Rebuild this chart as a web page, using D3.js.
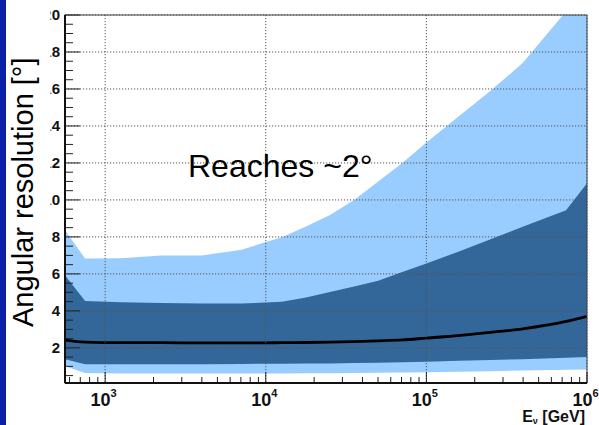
<!DOCTYPE html>
<html>
<head>
<meta charset="utf-8">
<script src="https://cdn.jsdelivr.net/npm/d3@7"></script>
<style>
  body { margin: 0; background: #fff; }
  svg { display: block; font-family: "Liberation Sans", Arial, sans-serif; }
</style>
</head>
<body>
<div id="chart"></div>
<script>
// energies in GeV
var energy = [562, 750, 1260, 2240, 3980, 7080, 10000, 12600, 17800, 25100, 35500, 50100, 70800, 100000, 158000, 251000, 398000, 741000, 1000000];
// light band (outer)
var outerHi = [8.36, 6.83, 6.85, 7.0, 7.0, 7.3, 7.73, 7.98, 8.56, 9.18, 10.0, 11.0, 12.0, 13.1, 14.5, 15.9, 17.4, 20.2, 21.6];
var outerLo = [1.0, 0.64, 0.62, 0.62, 0.62, 0.62, 0.62, 0.62, 0.63, 0.63, 0.64, 0.66, 0.67, 0.68, 0.71, 0.74, 0.77, 0.81, 0.83];
// dark band (inner)
var innerHi = [5.93, 4.54, 4.47, 4.43, 4.4, 4.4, 4.45, 4.5, 4.72, 5.02, 5.32, 5.63, 6.1, 6.56, 7.2, 7.88, 8.55, 9.44, 10.9];
var innerLo = [1.38, 1.11, 1.11, 1.12, 1.12, 1.13, 1.14, 1.14, 1.15, 1.16, 1.18, 1.2, 1.22, 1.25, 1.3, 1.34, 1.39, 1.46, 1.5];
// median
var median = [2.42, 2.31, 2.28, 2.28, 2.27, 2.27, 2.27, 2.28, 2.29, 2.31, 2.34, 2.38, 2.43, 2.53, 2.66, 2.84, 3.03, 3.43, 3.71];

var xTicks = [1e3, 1e4, 1e5, 1e6];
var xTickExp = ["3", "4", "5", "6"];
var yTicks = [2, 4, 6, 8, 10, 12, 14, 16, 18, 20];

var svgWidth = 599, svgHeight = 425;
var margin = { top: 15, right: 12, bottom: 42, left: 65 };
var width = svgWidth - margin.left - margin.right;
var height = svgHeight - margin.top - margin.bottom;

var svg = d3.select("#chart").append("svg")
    .attr("width", svgWidth)
    .attr("height", svgHeight);

// blue strip on the left edge
svg.append("rect").attr("x", 0).attr("y", 0).attr("width", 6).attr("height", svgHeight).attr("fill", "#0b22a8");

var chartGroup = svg.append("g")
    .attr("transform", `translate(${margin.left}, ${margin.top})`);

var xScale = d3.scaleLog().domain([Math.pow(10, 2.75), 1e6]).range([0, width]);
var yScale = d3.scaleLinear().domain([0.1, 20]).range([height, 0]);

svg.append("defs").append("clipPath").attr("id", "plotclip")
    .append("rect").attr("width", width).attr("height", height);
svg.select("defs").append("clipPath").attr("id", "labclip")
    .append("rect").attr("x", 50.5).attr("y", 0).attr("width", 20).attr("height", svgHeight);

var rows = energy.map(function (e, i) {
    return { e: e, oh: outerHi[i], ol: outerLo[i], ih: innerHi[i], il: innerLo[i], m: median[i] };
});

var plot = chartGroup.append("g").attr("clip-path", "url(#plotclip)");

plot.append("path").datum(rows)
    .attr("fill", "#99ccff")
    .attr("d", d3.area().x(d => xScale(d.e)).y0(d => yScale(d.ol)).y1(d => yScale(d.oh)));

plot.append("path").datum(rows)
    .attr("fill", "#336699")
    .attr("d", d3.area().x(d => xScale(d.e)).y0(d => yScale(d.il)).y1(d => yScale(d.ih)));

// grid
yTicks.forEach(function (t) {
    chartGroup.append("line")
        .attr("x1", 0).attr("x2", width)
        .attr("y1", yScale(t)).attr("y2", yScale(t))
        .attr("stroke", "#555").attr("stroke-width", 1).attr("stroke-dasharray", "1.2,1.8");
});
xTicks.forEach(function (t) {
    chartGroup.append("line")
        .attr("x1", xScale(t)).attr("x2", xScale(t))
        .attr("y1", 0).attr("y2", height)
        .attr("stroke", "#555").attr("stroke-width", 1).attr("stroke-dasharray", "1.2,1.8");
});

// median line
plot.append("path").datum(rows)
    .attr("fill", "none")
    .attr("stroke", "#000")
    .attr("stroke-width", 2.8)
    .attr("d", d3.line().x(d => xScale(d.e)).y(d => yScale(d.m)).curve(d3.curveMonotoneX));

// frame
chartGroup.append("rect").attr("width", width).attr("height", height)
    .attr("fill", "none").attr("stroke", "#444").attr("stroke-width", 1);

// y ticks (inside)
var yMinor = d3.range(0.5, 20.01, 0.5);
yMinor.forEach(function (t) {
    var major = Math.abs(t % 2) < 1e-6;
    chartGroup.append("line")
        .attr("x1", 0).attr("x2", major ? 15 : 8)
        .attr("y1", yScale(t)).attr("y2", yScale(t))
        .attr("stroke", "#222").attr("stroke-width", 1);
});

// x ticks (inside)
var xMinor = [];
[100, 1000, 10000, 100000].forEach(function (dec) {
    for (var k = 2; k <= 9; k++) xMinor.push(dec * k);
});
xMinor.filter(v => v >= xScale.domain()[0]).forEach(function (t) {
    chartGroup.append("line")
        .attr("x1", xScale(t)).attr("x2", xScale(t))
        .attr("y1", height).attr("y2", height - 6)
        .attr("stroke", "#222").attr("stroke-width", 1);
});
xTicks.forEach(function (t) {
    chartGroup.append("line")
        .attr("x1", xScale(t)).attr("x2", xScale(t))
        .attr("y1", height).attr("y2", height - 11)
        .attr("stroke", "#222").attr("stroke-width", 1);
});

// axes lines
chartGroup.append("line").attr("x1", 0).attr("x2", 0).attr("y1", 0).attr("y2", height)
    .attr("stroke", "#111").attr("stroke-width", 2);
chartGroup.append("line").attr("x1", 0).attr("x2", width).attr("y1", height).attr("y2", height)
    .attr("stroke", "#111").attr("stroke-width", 2);

// y tick labels (cropped on the left like the original)
var yLab = svg.append("g").attr("clip-path", "url(#labclip)");
yTicks.forEach(function (t) {
    yLab.append("text")
        .attr("x", 60)
        .attr("y", margin.top + yScale(t) + 5.3)
        .attr("text-anchor", "end")
        .attr("font-size", 15)
        .attr("font-weight", "bold")
        .attr("fill", "#111")
        .text(t);
});

// x tick labels
xTicks.forEach(function (t, i) {
    var lab = svg.append("text")
        .attr("x", margin.left + xScale(t) - 1.5)
        .attr("y", 406)
        .attr("text-anchor", "middle")
        .attr("font-weight", "bold")
        .attr("fill", "#111");
    lab.append("tspan").attr("font-size", 18).text("10");
    lab.append("tspan").attr("font-size", 11).attr("dy", -9).text(xTickExp[i]);
});

// x axis title
var xt = svg.append("text")
    .attr("x", 585)
    .attr("y", 422)
    .attr("text-anchor", "end")
    .attr("font-weight", "bold")
    .attr("fill", "#111");
xt.append("tspan").attr("font-size", 16).text("E");
xt.append("tspan").attr("font-size", 9).attr("dy", 2).text("ν");
xt.append("tspan").attr("font-size", 16).attr("dy", -2).text(" [GeV]");

// y axis title
svg.append("text")
    .attr("transform", "translate(33, 327) rotate(-90)")
    .attr("font-size", 29)
    .attr("fill", "#000")
    .text("Angular resolution [°]");

// annotation
svg.append("text")
    .attr("x", 188)
    .attr("y", 177)
    .attr("font-size", 32)
    .attr("fill", "#000")
    .text("Reaches ~2°");
</script>
</body>
</html>
